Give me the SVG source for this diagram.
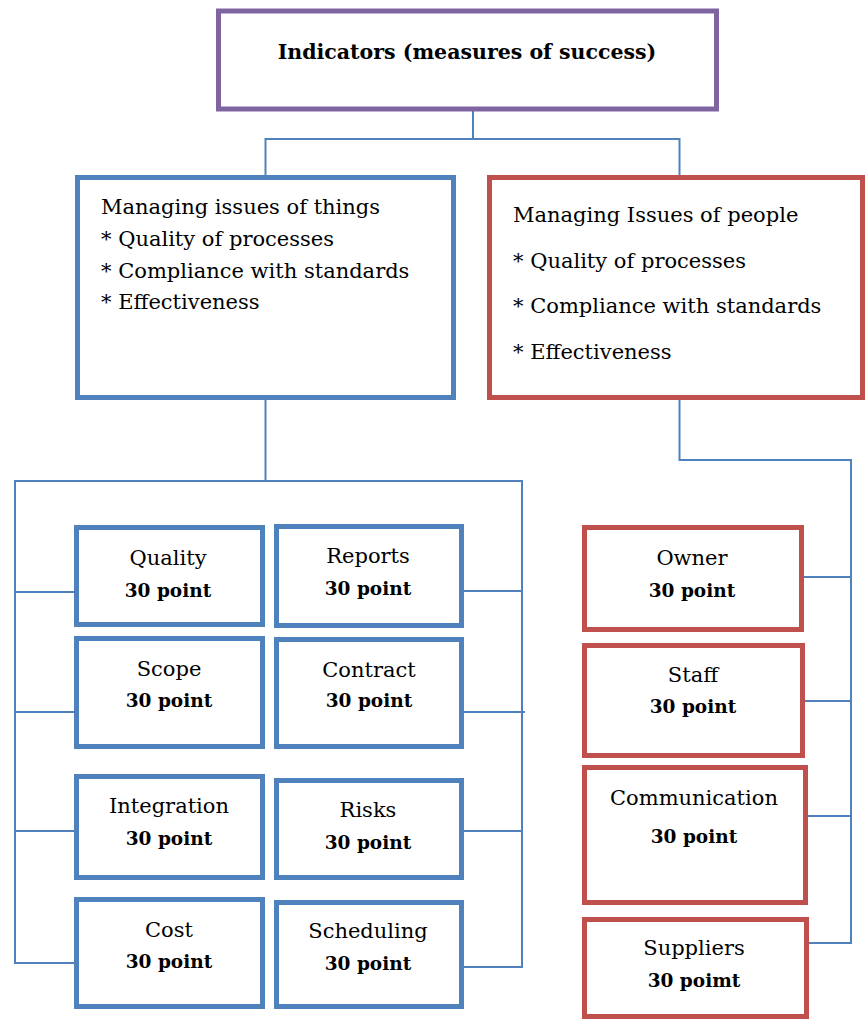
<svg xmlns="http://www.w3.org/2000/svg" width="866" height="1019" viewBox="0 0 866 1019">
<style>
.bg{fill:#ffffff}
.box{fill:#ffffff;stroke-width:5}
.blue{stroke:#4F81BD}
.red{stroke:#C0504D}
.purple{stroke:#8064A2}
.conn{fill:none;stroke:#4F81BD;stroke-width:2}
text{font-family:"DejaVu Serif","Liberation Serif",serif;fill:#000000}
.t{font-size:21px}
.c{font-size:21px;text-anchor:middle}
.b{font-size:18.5px;font-weight:bold;text-anchor:middle}
.h{font-size:20.5px;font-weight:bold;text-anchor:middle}
</style>
<rect class="bg" x="0" y="0" width="866" height="1019"/>
<g id="connectors">
<path class="conn" d="M473,111 V139 M265.5,176 V139 H679.5 V176"/>
<path class="conn" d="M265.5,399 V481 M77,963 H15 V481 H522 V967 H457"/>
<path class="conn" d="M15,592 H80 M15,712 H77 M15,831 H77 M464,591 H522 M464,712 H525 M464,831 H522"/>
<path class="conn" d="M679.5,399 V460 H851 V943 H807 M803,577 H851 M804,701 H851 M807,816 H851"/>
</g>
<g id="root">
<rect class="box purple" x="218.5" y="11" width="498" height="98"/>
<text class="h" x="467" y="59">Indicators (measures of success)</text>
</g>
<g id="things">
<rect class="box blue" x="77.5" y="177.5" width="376" height="220"/>
<text class="t" x="101" y="214">Managing issues  of things</text>
<text class="t" x="101" y="246">* Quality of processes</text>
<text class="t" x="101" y="278">* Compliance with standards</text>
<text class="t" x="101" y="309">* Effectiveness</text>
</g>
<g id="people">
<rect class="box red" x="489.5" y="177.5" width="373" height="220"/>
<text class="t" x="513" y="222">Managing Issues of people</text>
<text class="t" x="513" y="268">* Quality of processes</text>
<text class="t" x="513" y="313">* Compliance with standards</text>
<text class="t" x="513" y="359">* Effectiveness</text>
</g>
<g id="quality">
<rect class="box blue" x="76.5" y="527.5" width="186" height="97"/>
<text class="c" x="168" y="565">Quality</text>
<text class="b" x="168" y="597">30 point</text>
</g>
<g id="reports">
<rect class="box blue" x="276.5" y="526.5" width="185" height="99"/>
<text class="c" x="368" y="563">Reports</text>
<text class="b" x="368" y="595">30 point</text>
</g>
<g id="scope">
<rect class="box blue" x="76.5" y="638.5" width="186" height="108"/>
<text class="c" x="169" y="676">Scope</text>
<text class="b" x="169" y="707">30 point</text>
</g>
<g id="contract">
<rect class="box blue" x="276.5" y="639.5" width="185" height="107"/>
<text class="c" x="369" y="677">Contract</text>
<text class="b" x="369" y="707">30 point</text>
</g>
<g id="integration">
<rect class="box blue" x="76.5" y="776.5" width="186" height="101"/>
<text class="c" x="169" y="813">Integration</text>
<text class="b" x="169" y="845">30 point</text>
</g>
<g id="risks">
<rect class="box blue" x="276.5" y="780.5" width="185" height="97"/>
<text class="c" x="368" y="817">Risks</text>
<text class="b" x="368" y="849">30 point</text>
</g>
<g id="cost">
<rect class="box blue" x="76.5" y="899.5" width="186" height="107"/>
<text class="c" x="169" y="937">Cost</text>
<text class="b" x="169" y="968">30 point</text>
</g>
<g id="scheduling">
<rect class="box blue" x="276.5" y="902.5" width="185" height="104"/>
<text class="c" x="368" y="938">Scheduling</text>
<text class="b" x="368" y="970">30 point</text>
</g>
<g id="owner">
<rect class="box red" x="584.5" y="527.5" width="217" height="102"/>
<text class="c" x="692" y="565">Owner</text>
<text class="b" x="692" y="597">30 point</text>
</g>
<g id="staff">
<rect class="box red" x="584.5" y="645.5" width="218" height="110"/>
<text class="c" x="693" y="682">Staff</text>
<text class="b" x="693" y="713">30 point</text>
</g>
<g id="communication">
<rect class="box red" x="584.5" y="767.5" width="221" height="135"/>
<text class="c" x="694" y="805">Communication</text>
<text class="b" x="694" y="843">30 point</text>
</g>
<g id="suppliers">
<rect class="box red" x="584.5" y="919.5" width="222" height="97"/>
<text class="c" x="694" y="955">Suppliers</text>
<text class="b" x="694" y="987">30 poimt</text>
</g>
</svg>
